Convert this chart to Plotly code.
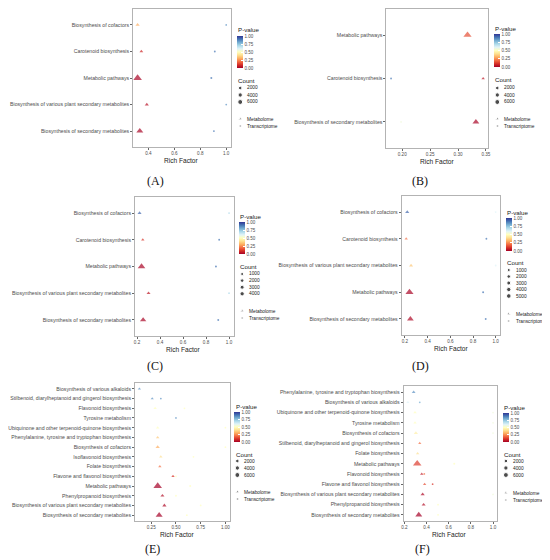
import math
import plotly.graph_objects as go

# the page body adds an 8px margin, so the figure is drawn 8px in from the window edge
OFF = 8
WIN_W, WIN_H = 550, 560
W, H = WIN_W - OFF, WIN_H - OFF

# ---------------- data ----------------
# Panel A (categories listed top -> bottom)
A_cats = ["Biosynthesis of cofactors", "Carotenoid biosynthesis", "Metabolic pathways",
          "Biosynthesis of various plant secondary metabolites", "Biosynthesis of secondary metabolites"]
A_met_rf = [0.317, 0.346, 0.317, 0.388, 0.334]
A_met_p = [0.30, 0.08, 0.01, 0.04, 0.01]
A_met_n = [350, 150, 6400, 300, 3300]
A_tr_rf = [1.0, 0.912, 0.885, 1.0, 0.905]
A_tr_p = [0.85, 0.90, 0.90, 0.85, 0.90]
A_tr_n = [2, 12, 60, 3, 20]
A_breaks = [2000, 4000, 6000]
A_xticks = [0.4, 0.6, 0.8, 1.0]

# Panel B
B_cats = ["Metabolic pathways", "Carotenoid biosynthesis", "Biosynthesis of secondary metabolites"]
B_met_rf = [0.317, 0.345, 0.332]
B_met_p = [0.15, 0.05, 0.01]
B_met_n = [5600, 60, 3000]
B_tr_rf = [None, 0.180, 0.198]
B_tr_p = [None, 0.90, 0.55]
B_tr_n = [None, 5, 15]
B_breaks = [2000, 4000, 6000]
B_xticks = [0.20, 0.25, 0.30, 0.35]

# Panel C
C_cats = ["Biosynthesis of cofactors", "Carotenoid biosynthesis", "Metabolic pathways",
          "Biosynthesis of various plant secondary metabolites", "Biosynthesis of secondary metabolites"]
C_met_rf = [0.222, 0.250, 0.239, 0.300, 0.253]
C_met_p = [0.92, 0.10, 0.01, 0.05, 0.01]
C_met_n = [250, 40, 4300, 250, 2300]
C_tr_rf = [1.0, 0.914, 0.886, 1.0, 0.906]
C_tr_p = [0.70, 0.90, 0.90, 0.70, 0.90]
C_tr_n = [2, 10, 50, 3, 20]
C_breaks = [1000, 2000, 3000, 4000]
C_xticks = [0.2, 0.4, 0.6, 0.8, 1.0]

# Panel D
D_cats = ["Biosynthesis of cofactors", "Carotenoid biosynthesis",
          "Biosynthesis of various plant secondary metabolites", "Metabolic pathways",
          "Biosynthesis of secondary metabolites"]
D_met_rf = [0.220, 0.211, 0.254, 0.240, 0.248]
D_met_p = [0.92, 0.20, 0.35, 0.01, 0.02]
D_met_n = [300, 40, 300, 5300, 2800]
D_tr_rf = [1.0, 0.918, 1.0, 0.889, 0.912]
D_tr_p = [0.60, 0.90, 0.60, 0.90, 0.90]
D_tr_n = [2, 10, 3, 50, 20]
D_breaks = [1000, 2000, 3000, 4000, 5000]
D_xticks = [0.2, 0.4, 0.6, 0.8, 1.0]

# Panel E
E_cats = ["Biosynthesis of various alkaloids",
          "Stilbenoid, diarylheptanoid and gingerol biosynthesis",
          "Flavonoid biosynthesis", "Tyrosine metabolism",
          "Ubiquinone and other terpenoid-quinone biosynthesis",
          "Phenylalanine, tyrosine and tryptophan biosynthesis",
          "Biosynthesis of cofactors", "Isoflavonoid biosynthesis", "Folate biosynthesis",
          "Flavone and flavonol biosynthesis", "Metabolic pathways",
          "Phenylpropanoid biosynthesis",
          "Biosynthesis of various plant secondary metabolites",
          "Biosynthesis of secondary metabolites"]
E_met_rf = [0.130, 0.260, 0.289, None, 0.315, 0.315, 0.315, 0.347, 0.337, 0.470, 0.315, 0.363, 0.383, 0.330]
E_met_p = [0.85, 0.85, 0.50, None, 0.50, 0.35, 0.30, 0.40, 0.20, 0.10, 0.00, 0.03, 0.02, 0.00]
E_met_n = [20, 15, 60, None, 60, 60, 350, 50, 40, 30, 6400, 250, 350, 3300]
E_tr_rf = [None, 0.347, 0.586, 0.500, 1.0, None, 1.0, 0.677, None, 0.500, 0.644, 0.500, 0.750, 0.610]
E_tr_p = [None, 0.85, 0.50, 0.85, 0.50, None, 0.50, 0.50, None, 0.50, 0.50, 0.50, 0.50, 0.50]
E_tr_n = [None, 3, 3, 2, 2, None, 3, 2, None, 3, 60, 5, 2, 20]
E_breaks = [2000, 4000, 6000]
E_xticks = [0.25, 0.50, 0.75, 1.00]

# Panel F
F_cats = ["Phenylalanine, tyrosine and tryptophan biosynthesis",
          "Biosynthesis of various alkaloids",
          "Ubiquinone and other terpenoid-quinone biosynthesis",
          "Tyrosine metabolism", "Biosynthesis of cofactors",
          "Stilbenoid, diarylheptanoid and gingerol biosynthesis",
          "Folate biosynthesis", "Metabolic pathways", "Flavonoid biosynthesis",
          "Flavone and flavonol biosynthesis",
          "Biosynthesis of various plant secondary metabolites",
          "Phenylpropanoid biosynthesis", "Biosynthesis of secondary metabolites"]
F_met_rf = [0.284, 0.232, 0.296, 0.296, 0.304, 0.339, 0.320, 0.316, 0.357, 0.383, 0.365, 0.374, 0.330]
F_met_p = [0.85, 0.60, 0.50, 0.50, 0.45, 0.20, 0.40, 0.12, 0.05, 0.15, 0.02, 0.03, 0.00]
F_met_n = [150, 10, 60, 40, 350, 15, 40, 6300, 60, 30, 350, 250, 3300]
F_tr_rf = [None, 0.339, 1.0, 1.0, 1.0, None, None, 0.650, 0.380, 0.455, 1.0, 0.504, 0.504]
F_tr_p = [None, 0.80, 0.55, 0.55, 0.55, None, None, 0.50, 0.20, 0.10, 0.55, 0.50, 0.50]
F_tr_n = [None, 3, 2, 2, 3, None, None, 50, 5, 4, 3, 5, 20]
F_breaks = [2000, 4000, 6000]
F_xticks = [0.2, 0.4, 0.6, 0.8, 1.0]

# ---------------- layout constants (window pixels) ----------------
GEOM = {
    "A": dict(box=(117, 219, 9, 147), lx=226, pv=30, bar=(36, 68), ct=80, c0=88, st=7.0, sh=119,
              lab=(140, 181), xt=(168, 160)),
    "B": dict(box=(382, 488, 9, 148), lx=495, pv=28, bar=(34, 67), ct=79, c0=88, st=7.0, sh=119,
              lab=(417, 181), xt=(435, 161.5)),
    "C": dict(box=(119, 222, 197, 336), lx=228, pv=216, bar=(222, 254), ct=266, c0=274, st=6.6, sh=311,
              lab=(140, 366), xt=(170, 349)),
    "D": dict(box=(398, 501, 196, 335), lx=507, pv=212, bar=(218, 251), ct=262, c0=270, st=6.5, sh=314,
              lab=(418, 366), xt=(450, 348)),
    "E": dict(box=(119, 218, 383, 521), lx=223, pv=406, bar=(412, 442), ct=454, c0=461, st=7.0, sh=492,
              lab=(137, 549), xt=(163, 534)),
    "F": dict(box=(400, 498, 386, 521), lx=504, pv=407, bar=(413, 442), ct=454, c0=461, st=7.0, sh=493,
              lab=(420, 549), xt=(448, 534)),
}

PANELS = [
    ("A", A_cats, A_met_rf, A_met_p, A_met_n, A_tr_rf, A_tr_p, A_tr_n, A_breaks, A_xticks, ".1f"),
    ("B", B_cats, B_met_rf, B_met_p, B_met_n, B_tr_rf, B_tr_p, B_tr_n, B_breaks, B_xticks, ".2f"),
    ("C", C_cats, C_met_rf, C_met_p, C_met_n, C_tr_rf, C_tr_p, C_tr_n, C_breaks, C_xticks, ".1f"),
    ("D", D_cats, D_met_rf, D_met_p, D_met_n, D_tr_rf, D_tr_p, D_tr_n, D_breaks, D_xticks, ".1f"),
    ("E", E_cats, E_met_rf, E_met_p, E_met_n, E_tr_rf, E_tr_p, E_tr_n, E_breaks, E_xticks, ".2f"),
    ("F", F_cats, F_met_rf, F_met_p, F_met_n, F_tr_rf, F_tr_p, F_tr_n, F_breaks, F_xticks, ".1f"),
]

FONT = "Liberation Sans, Arial, sans-serif"
AX_GREY = "#4d4d4d"


def px_x(p):
    return (p - OFF) / W


def px_y(p):
    return 1 - (p - OFF) / H


def dia(n):
    return 1.7 + 3.2 * math.sqrt(n / 6000.0)


TRI = 1.5  # ggplot triangles render larger than circles of the same size

fig = go.Figure()
layout = dict(width=W, height=H, margin=dict(l=0, r=0, t=0, b=0),
              paper_bgcolor="white", plot_bgcolor="rgba(0,0,0,0)", showlegend=False,
              font=dict(family=FONT, color="#222"), annotations=[])

for k, (tag, cats, mrf, mp, mn, trf, tp, tn, breaks, xticks, fmt) in enumerate(PANELS, start=1):
    g = GEOM[tag]
    l, r, t, b = g["box"]
    sx = "" if k == 1 else str(k)
    allrf = [v for v in mrf + trf if v is not None]
    lo, hi = min(allrf), max(allrf)
    pad = 0.05 * (hi - lo)
    n = len(cats)

    layout["xaxis" + sx] = dict(domain=[px_x(l), px_x(r)], anchor="y" + sx, range=[lo - pad, hi + pad],
                                tickvals=xticks, tickformat=fmt, showgrid=False, zeroline=False,
                                showline=True, mirror=True, linecolor="#b3b3b3", linewidth=1,
                                ticks="outside", ticklen=1.5, tickwidth=0.6, tickcolor="#666",
                                tickfont=dict(size=4.6, color=AX_GREY, family=FONT))
    layout["yaxis" + sx] = dict(domain=[px_y(b), px_y(t)], anchor="x" + sx, type="category",
                                categoryorder="array", categoryarray=list(reversed(cats)),
                                range=[-0.6, n - 0.4], showgrid=False, zeroline=False,
                                showline=True, mirror=True, linecolor="#b3b3b3", linewidth=1,
                                ticks="outside", ticklen=2, tickwidth=0.6, tickcolor="#666",
                                tickfont=dict(size=5.2, color=AX_GREY, family=FONT))

    ca = "coloraxis" + sx
    b0, b1 = g["bar"]
    layout[ca] = dict(cmin=0, cmax=1, colorscale="RdYlBu",
                      colorbar=dict(x=px_x(g["lx"]), xanchor="left", y=px_y(b0), yanchor="top",
                                    len=b1 - b0, lenmode="pixels", thickness=6, thicknessmode="pixels",
                                    xpad=0, ypad=0, outlinewidth=0, ticks="inside", ticklen=1.5,
                                    tickcolor="white", tickvals=[0, 0.25, 0.5, 0.75, 1.0],
                                    ticktext=["0.00", "0.25", "0.50", "0.75", "1.00"],
                                    tickfont=dict(size=4.5, color=AX_GREY, family=FONT)))

    tr_idx = [i for i, v in enumerate(trf) if v is not None]
    fig.add_trace(go.Scatter(x=[trf[i] for i in tr_idx], y=[cats[i] for i in tr_idx],
                             mode="markers", xaxis="x" + sx, yaxis="y" + sx,
                             marker=dict(symbol="circle", size=[dia(tn[i]) for i in tr_idx],
                                         color=[tp[i] for i in tr_idx], coloraxis=ca,
                                         line=dict(width=0))))
    m_idx = [i for i, v in enumerate(mrf) if v is not None]
    fig.add_trace(go.Scatter(x=[mrf[i] for i in m_idx], y=[cats[i] for i in m_idx],
                             mode="markers", xaxis="x" + sx, yaxis="y" + sx,
                             marker=dict(symbol="triangle-up", size=[dia(mn[i]) * TRI for i in m_idx],
                                         color=[mp[i] for i in m_idx], coloraxis=ca,
                                         line=dict(width=0))))

    kx = g["lx"] + 3
    ky = [g["c0"] + i * g["st"] for i in range(len(breaks))]
    fig.add_trace(go.Scatter(x=[kx] * len(breaks), y=ky, mode="markers", xaxis="x7", yaxis="y7",
                             marker=dict(symbol="circle", color="black", size=[dia(v) for v in breaks])))
    fig.add_trace(go.Scatter(x=[kx, kx], y=[g["sh"], g["sh"] + 7], mode="markers", xaxis="x7", yaxis="y7",
                             marker=dict(symbol=["triangle-up", "circle"], color="black", size=[3.0, 2.0])))

    ann = layout["annotations"]
    tx = px_x(g["lx"] + 8)
    for v, yy in zip(breaks, ky):
        ann.append(dict(x=tx, y=px_y(yy), xref="paper", yref="paper", text=str(v), showarrow=False,
                        xanchor="left", yanchor="middle", font=dict(size=4.8, color="#222", family=FONT)))
    for j, name in enumerate(["Metabolome", "Transcriptome"]):
        ann.append(dict(x=tx, y=px_y(g["sh"] + 7 * j), xref="paper", yref="paper", text=name,
                        showarrow=False, xanchor="left", yanchor="middle",
                        font=dict(size=4.8, color="#222", family=FONT)))
    ann.append(dict(x=px_x(g["lx"] - 1), y=px_y(g["pv"]), xref="paper", yref="paper", text="P-value",
                    showarrow=False, xanchor="left", yanchor="middle",
                    font=dict(size=6.2, color="#222", family=FONT)))
    ann.append(dict(x=px_x(g["lx"] - 1), y=px_y(g["ct"]), xref="paper", yref="paper", text="Count",
                    showarrow=False, xanchor="left", yanchor="middle",
                    font=dict(size=6.2, color="#222", family=FONT)))
    ann.append(dict(x=px_x(g["xt"][0]), y=px_y(g["xt"][1]), xref="paper", yref="paper", text="Rich Factor",
                    showarrow=False, xanchor="center", yanchor="middle",
                    font=dict(size=6.6, color="#222", family=FONT)))
    ann.append(dict(x=px_x(g["lab"][0]), y=px_y(g["lab"][1]), xref="paper", yref="paper",
                    text="(" + tag + ")", showarrow=False, xanchor="center", yanchor="middle",
                    font=dict(size=12, color="#111", family="Liberation Serif, Times New Roman, serif")))

layout["xaxis7"] = dict(domain=[0, 1], range=[OFF, WIN_W], anchor="y7", visible=False, fixedrange=True)
layout["yaxis7"] = dict(domain=[0, 1], range=[WIN_H, OFF], anchor="x7", visible=False, fixedrange=True)

fig.update_layout(**layout)
fig.write_html("out.html")
